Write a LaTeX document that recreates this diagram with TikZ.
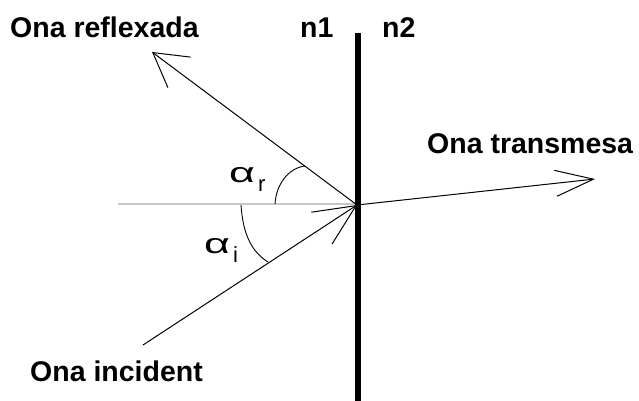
\documentclass[tikz,border=0pt]{standalone}
\usepackage{fontspec}
\setmainfont{Liberation Sans}
\usetikzlibrary{arrows.meta}
\definecolor{normgray}{RGB}{200,200,200}
\newcommand{\anglabel}[1]{\scalebox{1.6}[1]{\fontsize{28}{30}\selectfont α}\hspace{3pt}\raisebox{-9pt}{\fontsize{22}{24}\selectfont #1}}
\begin{document}
\begin{tikzpicture}[x=1pt,y=-1pt,
  lbl/.style={font=\fontsize{28.5}{30}\selectfont\bfseries, anchor=base west, inner sep=0pt},
  greek/.style={anchor=base west, inner sep=0pt},
  ray/.style={line width=1pt},
  angarc/.style={line width=0.9pt},
  boundary/.style={line width=5.5pt},
  normal/.style={line width=2pt, draw=normgray}]
\useasboundingbox (0,0) rectangle (639,401);
% points
\coordinate (O) at (357,205);
\coordinate (I) at (143,345);
\coordinate (R) at (152,52);
\coordinate (T) at (595,179);
\coordinate (Btop) at (358,33);
\coordinate (Bbot) at (358,401);
\coordinate (Nl) at (118,204);
\coordinate (Nr) at (358,204);
% boundary and normal
\draw[normal] (Nl) -- (Nr);
\draw[boundary] (Btop) -- (Bbot);
% rays
\draw[ray, -{Straight Barb[length=41pt,width=38pt]}] (I) -- (O);
\draw[ray, -{Straight Barb[length=33pt,width=38pt]}] (O) -- (R);
\draw[ray, -{Straight Barb[length=38pt,width=26pt]}] (O) -- (T);
% angle arcs
\coordinate (ar1) at (275,204);
\coordinate (ar2) at (305,166);
\draw[angarc] (ar1) .. controls (276,185) and (288,168) .. (ar2);
\coordinate (ai1) at (241,205);
\coordinate (ai2) at (268,262);
\draw[angarc] (ai1) .. controls (243,235) and (252,252) .. (ai2);
% labels
\node[lbl] (lrefl) at (10,38) {Ona reflexada};
\node[lbl] (ln1) at (300,38) {n1};
\node[lbl] (ln2) at (382,38) {n2};
\node[lbl] (ltrans) at (427,153) {Ona transmesa};
\node[lbl] (linc) at (30,381) {Ona incident};
\node[greek] (alr) at (229,182) {\anglabel{r}};
\node[greek] (ali) at (204,253) {\anglabel{i}};
\end{tikzpicture}
\end{document}
